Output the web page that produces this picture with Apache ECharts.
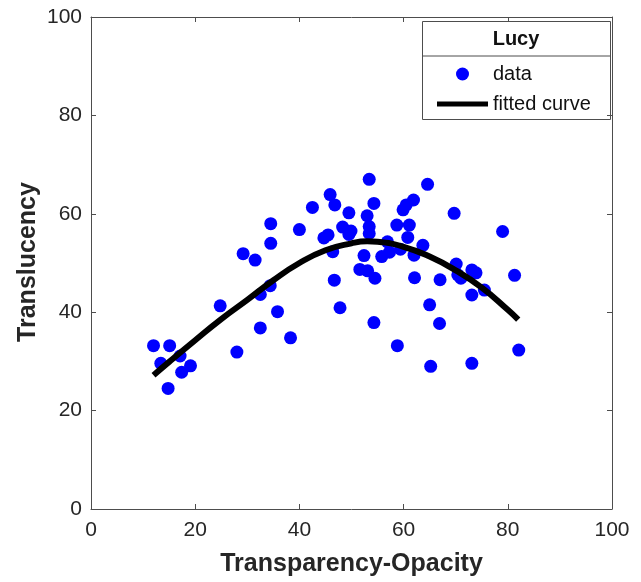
<!DOCTYPE html>
<html>
<head>
<meta charset="utf-8">
<script src="https://cdn.jsdelivr.net/npm/echarts@6/dist/echarts.min.js"></script>
<style>
html,body{margin:0;padding:0;background:#fff;}
#chart{width:641px;height:582px;}
</style>
</head>
<body>
<div id="chart"></div>
<script>
// Scatter data: Transparency-Opacity (x) and Translucency (y)
var dataX = [12.0,13.4,15.1,14.8,17.1,17.4,19.1,24.8,28.0,29.2,31.5,32.5,32.5,34.4,34.5,34.5,35.8,38.3,40.0,42.5,
             44.7,45.5,45.9,46.4,46.8,46.7,47.8,48.3,49.5,49.9,49.5,51.6,52.4,53.0,53.1,53.4,53.4,53.4,54.3,54.5,
             54.3,55.8,56.9,57.3,58.7,58.8,59.4,59.9,60.5,60.8,61.1,61.9,62.0,62.1,63.7,64.6,65.0,65.2,66.9,67.0,
             69.7,70.1,70.4,71.0,73.1,73.9,73.1,73.1,75.5,79.0,81.3,82.1];
var dataY = [33.2,29.6,33.2,24.5,31.1,27.8,29.1,41.3,31.9,51.9,50.6,43.6,36.8,45.4,58.0,54.0,40.1,34.8,56.8,61.3,
             55.1,55.7,63.9,52.3,61.8,46.5,40.9,57.3,60.2,56.5,55.8,48.7,51.5,59.6,48.4,67.0,57.4,56.0,62.1,46.9,
             37.9,51.3,54.3,52.2,57.7,33.2,52.8,60.8,61.8,55.2,57.7,62.8,51.6,47.0,53.6,66.0,41.5,29.0,37.7,46.6,
             60.1,49.8,47.6,46.9,48.6,48.0,43.5,29.6,44.5,56.4,47.5,32.3];
// Fitted curve
var curveX = [12, 15, 20, 25, 30, 35, 40, 45, 50, 53, 55, 60, 65, 70, 75, 80, 82];
var curveY = [27.2, 29.9, 34.3, 38.6, 42.5, 46.5, 50.0, 52.6, 54.0, 54.4, 54.3, 53.3, 51.3, 48.5, 45.0, 40.5, 38.5];
var xTicks = [0, 20, 40, 60, 80, 100];
var yTicks = [0, 20, 40, 60, 80, 100];
var legendTitle = 'Lucy';
var seriesNames = ['data', 'fitted curve'];
var xName = 'Transparency-Opacity';
var yName = 'Translucency';

var scatterData = dataX.map(function (x, i) { return [x, dataY[i]]; });
var curveData = curveX.map(function (x, i) { return [x, curveY[i]]; });

var FONT = '"Liberation Sans", Arial, Helvetica, sans-serif';
var AX = '#262626';
var LINE = '#4d4d4d';

function axisBase(show) {
  return {
    min: xTicks[0], max: xTicks[xTicks.length - 1], interval: xTicks[1] - xTicks[0],
    axisLine: { show: true, onZero: false, lineStyle: { color: LINE, width: 1 } },
    axisTick: { show: true, inside: true, length: 5, lineStyle: { color: LINE, width: 1 } },
    axisLabel: { show: show, color: AX, fontFamily: FONT, fontSize: 21 },
    splitLine: { show: false }
  };
}

var chart = echarts.init(document.getElementById('chart'), null, { renderer: 'canvas' });

var xBottom = axisBase(true);
xBottom.type = 'value'; xBottom.position = 'bottom';
xBottom.name = xName; xBottom.nameLocation = 'middle'; xBottom.nameGap = 43;
xBottom.nameTextStyle = { fontFamily: FONT, fontSize: 25, fontWeight: 'bold', color: AX };
xBottom.axisLabel.margin = 11;
var xTop = axisBase(false); xTop.type = 'value'; xTop.position = 'top';
var yLeft = axisBase(true);
yLeft.min = yTicks[0]; yLeft.max = yTicks[yTicks.length - 1]; yLeft.interval = yTicks[1] - yTicks[0];
yLeft.type = 'value'; yLeft.position = 'left';
yLeft.axisLabel.margin = 9;
var yRight = axisBase(false); yRight.type = 'value'; yRight.position = 'right';

var legendText = { fontFamily: FONT, fontSize: 20, color: '#111', lineHeight: 20 };

chart.setOption({
  animation: false,
  backgroundColor: '#fff',
  grid: { left: 91, top: 17, width: 521, height: 492, containLabel: false },
  xAxis: [xBottom, xTop],
  yAxis: [yLeft, yRight],
  legend: [
    {
      left: 456, top: 64, padding: 0,
      itemWidth: 51, itemHeight: 13,
      textStyle: legendText,
      data: [{ name: seriesNames[0], icon: 'circle' }]
    },
    {
      left: 437, top: 94, padding: 0,
      itemWidth: 51, itemHeight: 13,
      textStyle: legendText,
      data: [{ name: seriesNames[1], icon: 'path://M0,0 L51,0 L51,5 L0,5 Z', itemStyle: { color: '#000' } }]
    }
  ],
  graphic: [
    { type: 'rect', left: 422, top: 21, shape: { width: 188, height: 98 },
      style: { fill: '#fff', stroke: LINE, lineWidth: 1 }, z: 0, silent: true },
    { type: 'line', shape: { x1: 422, y1: 56, x2: 610, y2: 56 },
      style: { stroke: LINE, lineWidth: 1 }, z: 1, silent: true },
    { type: 'text', x: 516, y: 39, style: { text: legendTitle, font: 'bold 20px ' + FONT, fill: '#111',
      textAlign: 'center', textVerticalAlign: 'middle' }, z: 2, silent: true },
    { type: 'text', x: 28, y: 262, rotation: Math.PI / 2,
      style: { text: yName, font: 'bold 25px ' + FONT, fill: AX,
      textAlign: 'center', textVerticalAlign: 'middle' }, z: 2, silent: true }
  ],
  series: [
    { name: seriesNames[0], type: 'scatter', xAxisIndex: 0, yAxisIndex: 0,
      data: scatterData, symbol: 'circle', symbolSize: 13,
      itemStyle: { color: '#0000ff', opacity: 1 }, z: 3 },
    { name: seriesNames[1], type: 'line', xAxisIndex: 0, yAxisIndex: 0,
      data: curveData, smooth: true, showSymbol: false, symbol: 'none',
      lineStyle: { color: '#000', width: 6 }, itemStyle: { color: '#000' }, z: 4 }
  ]
});
</script>
</body>
</html>
